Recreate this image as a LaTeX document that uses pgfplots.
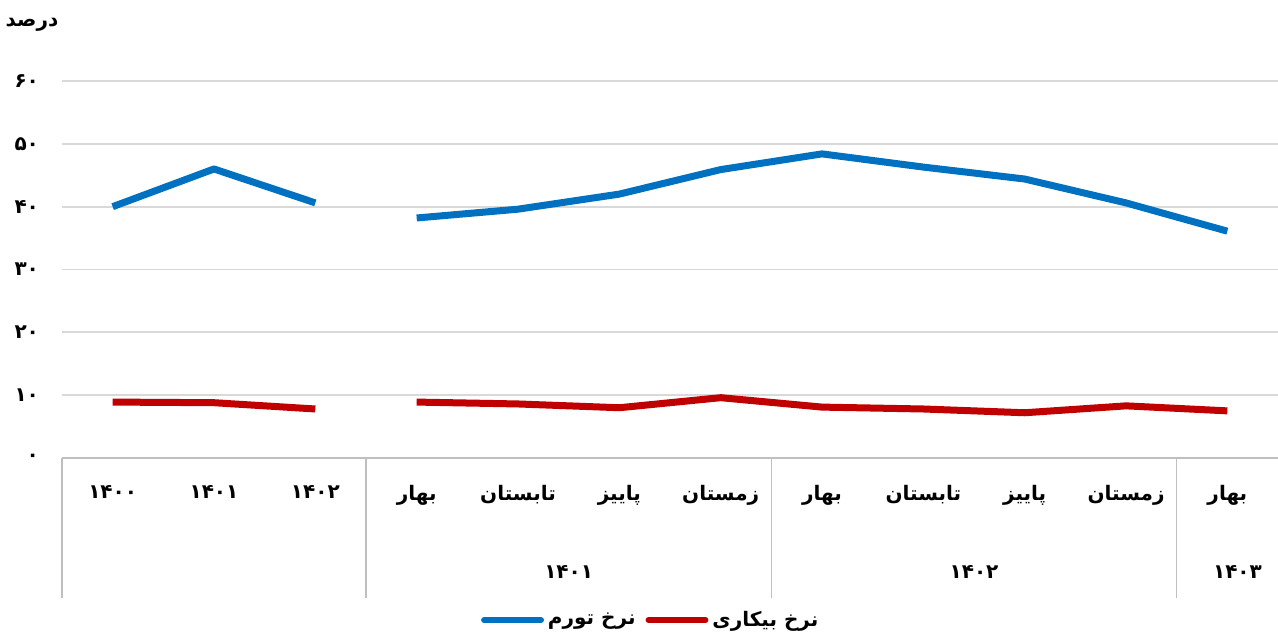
\documentclass[border=0pt]{standalone}
\usepackage{pgfplots}
\pgfplotsset{compat=1.18}
\usepackage{pgfplotstable}
\usepackage{fontspec}
\setmainfont{DejaVu Sans}
\newfontfamily\fa[Script=Arabic]{DejaVu Sans}
\TeXXeTstate=1
\definecolor{infl}{HTML}{0070C0}
\definecolor{unemp}{HTML}{C00000}
\definecolor{gridc}{HTML}{D9D9D9}
\definecolor{sepc}{HTML}{BFBFBF}
\pgfplotstableread{
x infl unemp
0 40.0 8.9
1 46.0 8.8
2 40.6 7.8
2.5 nan nan
3 38.2 8.9
4 39.6 8.6
5 42.0 8.0
6 45.9 9.6
7 48.4 8.1
8 46.3 7.8
9 44.4 7.2
10 40.6 8.3
11 36.1 7.5
}\data
\begin{document}
\begin{tikzpicture}
\useasboundingbox (0,0) rectangle (639pt,318.5pt);
\begin{axis}[
  at={(31pt,89.5pt)}, anchor=south west,
  scale only axis, width=608pt, height=188.5pt,
  xmin=-0.5, xmax=11.5, ymin=0, ymax=60,
  ytick={0,10,...,60},
  yticklabels={۰,۱۰,۲۰,۳۰,۴۰,۵۰,۶۰},
  xtick={0,...,11},
  xticklabels={۱۴۰۰,۱۴۰۱,۱۴۰۲,بهار,تابستان,پاییز,زمستان,بهار,تابستان,پاییز,زمستان,بهار},
  ticklabel style={font=\fontsize{10}{12}\selectfont\fa\bfseries},
  yticklabel style={xshift=-8pt},
  xticklabel style={yshift=-10pt},
  major tick length=0pt,
  ymajorgrids, grid style={gridc, line width=0.9pt},
  axis line style={draw=none},
  clip=false,
  unbounded coords=jump,
  legend columns=2,
  legend style={draw=none, fill=none, at={(axis description cs:0.485,-0.43)}, anchor=center,
    font=\fontsize{10}{12}\selectfont\fa\bfseries,
    /tikz/every even column/.append style={column sep=3pt}},
  legend image code/.code={\draw[#1, line width=3pt, line cap=round] (0cm,0cm) -- (1.0cm,0cm);},
]
\draw[sepc, line width=0.8pt] (axis cs:-0.5,0) -- (axis cs:11.5,0);
\addplot[infl, line width=3.5pt, line join=round] table[x=x,y=infl]{\data};
\addlegendentry{\beginR نرخ تورم\endR}
\addplot[unemp, line width=3.5pt, line join=round] table[x=x,y=unemp]{\data};
\addlegendentry{\beginR نرخ بیکاری\endR}
\draw[sepc, line width=0.6pt] (axis cs:-0.5,0) -- ++(0pt,-70pt);
\draw[sepc, line width=0.6pt] (axis cs:2.5,0) -- ++(0pt,-70pt);
\draw[sepc, line width=0.6pt] (axis cs:6.5,0) -- ++(0pt,-70pt);
\draw[sepc, line width=0.6pt] (axis cs:10.5,0) -- ++(0pt,-70pt);
\node[font=\fontsize{10}{12}\selectfont\fa\bfseries] at (axis cs:4.5,0) [yshift=-57pt] {۱۴۰۱};
\node[font=\fontsize{10}{12}\selectfont\fa\bfseries] at (axis cs:8.5,0) [yshift=-57pt] {۱۴۰۲};
\node[font=\fontsize{10}{12}\selectfont\fa\bfseries] at (axis cs:11.1,0) [yshift=-57pt] {۱۴۰۳};
\end{axis}
\node[font=\fontsize{10}{12}\selectfont\fa\bfseries] at (16pt,306pt) {درصد};
\end{tikzpicture}
\end{document}
